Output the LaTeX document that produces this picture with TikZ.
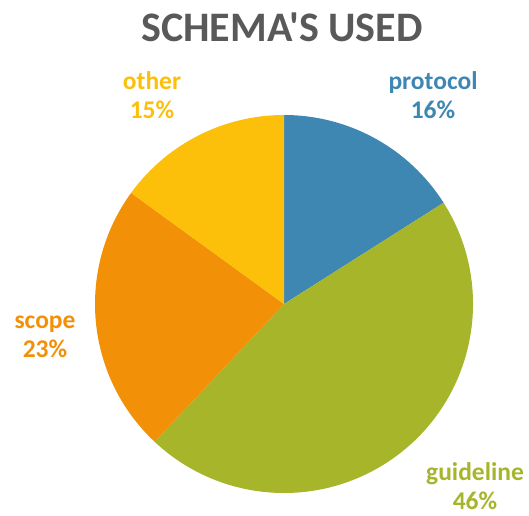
\documentclass[tikz,border=0pt]{standalone}
\usepackage{fontspec}
\setmainfont{Carlito}[Ligatures=TeXOff]
\definecolor{cblue}{HTML}{3E87B3}
\definecolor{cgreen}{HTML}{A6B52A}
\definecolor{corange}{HTML}{F29107}
\definecolor{cyellow}{HTML}{FCBF0A}
\definecolor{ctitle}{HTML}{595959}
\begin{document}
\begin{tikzpicture}[x=1pt,y=-1pt,
  lbl/.style={font=\bfseries\fontsize{25.5}{29}\selectfont, align=center, inner sep=0pt},
  slice/.style={draw=none}]
\useasboundingbox (0,0) rectangle (529,515);
\coordinate (c) at (284,304);
\def\R{189}
\fill[cblue]   (c) -- ++(-90:\R) arc[start angle=-90, end angle=-32.4, radius=\R] -- cycle;
\fill[cgreen]  (c) -- ++(-32.4:\R) arc[start angle=-32.4, end angle=133.2, radius=\R] -- cycle;
\fill[corange] (c) -- ++(133.2:\R) arc[start angle=133.2, end angle=216, radius=\R] -- cycle;
\fill[cyellow] (c) -- ++(216:\R) arc[start angle=216, end angle=270, radius=\R] -- cycle;
\node[font=\bfseries\fontsize{42}{48}\selectfont, text=ctitle, inner sep=0pt] (title) at (282,27) {SCHEMA'S USED};
\node[lbl, text=cyellow] (other) at (152,95) {other\\15\%};
\node[lbl, text=cblue] (protocol) at (433,95) {protocol\\16\%};
\node[lbl, text=corange] (scope) at (45,337) {scope\\23\%};
\node[lbl, text=cgreen] (guideline) at (475,486) {guideline\\46\%};
\end{tikzpicture}
\end{document}
